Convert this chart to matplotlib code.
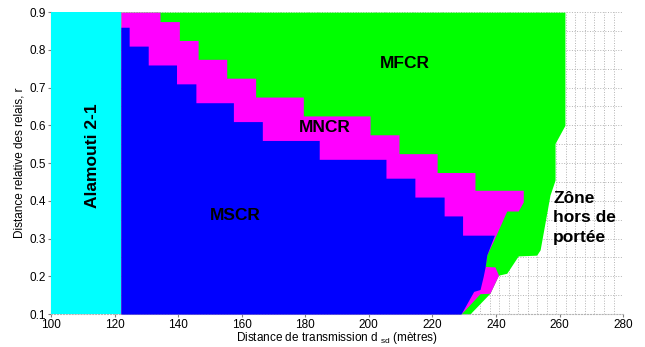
import numpy as np
import matplotlib
matplotlib.use("Agg")
import matplotlib.pyplot as plt

plt.rcParams['font.family'] = ['Liberation Sans', 'DejaVu Sans']

# limite de la zone Alamouti 2-1 (metres)
alamouti_lim = 122.0

# frontiere MSCR / autre (r, distance)
r_mscr = [0.90, 0.86, 0.86, 0.81, 0.81, 0.76, 0.76, 0.71, 0.71, 0.66, 0.66, 0.61,
          0.61, 0.56, 0.56, 0.51, 0.51, 0.46, 0.46, 0.41, 0.41, 0.36, 0.36, 0.309,
          0.309, 0.256, 0.225, 0.200, 0.165, 0.160, 0.10]
d_mscr = [122.0, 122.0, 124.6, 124.6, 130.6, 130.6, 139.5, 139.5, 145.6, 145.6, 157.4, 157.4,
          166.5, 166.5, 184.4, 184.4, 205.4, 205.4, 214.5, 214.5, 223.7, 223.7, 229.5, 229.5,
          239.5, 237.1, 236.6, 236.0, 235.0, 233.0, 229.0]

# frontiere MNCR / MFCR
r_mncr = [0.90, 0.875, 0.875, 0.825, 0.825, 0.775, 0.775, 0.725, 0.725, 0.675, 0.675, 0.625,
          0.625, 0.575, 0.575, 0.525, 0.525, 0.475, 0.475, 0.428, 0.428, 0.397, 0.373, 0.373,
          0.303, 0.256, 0.226, 0.225, 0.203, 0.155, 0.154, 0.10]
d_mncr = [134.3, 134.3, 140.4, 140.4, 146.3, 146.3, 155.3, 155.3, 164.4, 164.4, 179.4, 179.4,
          200.4, 200.4, 209.5, 209.5, 221.5, 221.5, 233.4, 233.4, 248.6, 248.6, 247.0, 243.4,
          239.7, 237.1, 236.6, 239.7, 240.8, 238.1, 235.0, 229.0]

# frontiere MFCR / hors de portee
r_mfcr = [0.90, 0.60, 0.552, 0.455, 0.415, 0.27, 0.256, 0.254, 0.208, 0.203, 0.155, 0.10]
d_mfcr = [261.7, 261.7, 258.6, 258.6, 257.0, 253.9, 252.8, 247.0, 243.4, 240.8, 238.1, 231.8]

fig = plt.figure(figsize=(6.45, 3.47), dpi=100)
ax = fig.add_axes([0.079, 0.095, 0.887, 0.870])

# grille pointillee
for x in np.arange(100, 281, 3):
    ax.axvline(x, color='#b4b4b4', ls=':', lw=0.7, zorder=0)
for y in np.arange(0.1, 0.901, 0.05):
    ax.axhline(y, color='#b4b4b4', ls=':', lw=0.7, zorder=0)

ax.fill_betweenx(r_mfcr, alamouti_lim, d_mfcr, color='#00ff00', lw=0, zorder=1)
ax.fill_betweenx(r_mncr, alamouti_lim, d_mncr, color='#ff00ff', lw=0, zorder=2)
ax.fill_betweenx(r_mscr, alamouti_lim, d_mscr, color='#0000ff', lw=0, zorder=3)
ax.fill_betweenx([0.1, 0.9], 100, alamouti_lim, color='#00ffff', lw=0, zorder=4)

fs = 12.5
ax.text(113.0, 0.52, 'Alamouti 2-1', rotation=90, ha='center', va='center',
        fontsize=fs, fontweight='bold', zorder=5)
ax.text(211.4, 0.765, 'MFCR', ha='center', va='center', fontsize=fs, fontweight='bold', zorder=5)
ax.text(186.2, 0.593, 'MNCR', ha='center', va='center', fontsize=fs, fontweight='bold', zorder=5)
ax.text(157.9, 0.362, 'MSCR', ha='center', va='center', fontsize=fs, fontweight='bold', zorder=5)
ax.text(258.0, 0.355, 'Zône\nhors de\nportée', ha='left', va='center', fontsize=fs,
        fontweight='bold', linespacing=1.4, zorder=5)

ax.set_xlim(100, 280)
ax.set_ylim(0.1, 0.9)
ax.set_xticks(np.arange(100, 281, 20))
ax.set_yticks(np.arange(0.1, 0.91, 0.1))
ax.tick_params(labelsize=8.5, length=2, color='#808080', pad=1.5)
ax.spines['top'].set_visible(False)
ax.spines['right'].set_visible(False)
ax.spines['left'].set_color('#808080')
ax.spines['bottom'].set_color('#b4b4b4')
ax.spines['bottom'].set_linestyle(':')

ax.set_xlabel('Distance de transmission d $_{\\mathregular{sd}}$ (mètres)', fontsize=8.5, labelpad=-0.5)
ax.set_ylabel('Distance relative des relais, r', fontsize=8.5, labelpad=3)

plt.savefig('out.png', dpi=100)
